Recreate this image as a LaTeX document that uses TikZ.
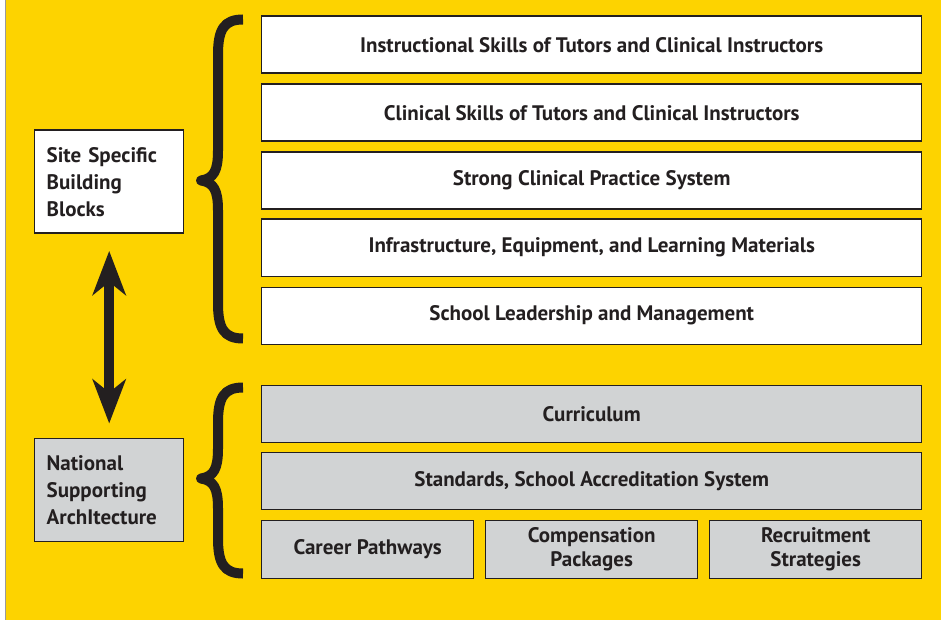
\documentclass[tikz,border=0pt]{standalone}
\usepackage{fontspec}
\setmainfont{PT Sans}
\usetikzlibrary{arrows.meta}
\definecolor{panel}{HTML}{FDD300}
\definecolor{ink}{HTML}{231F20}
\definecolor{boxgray}{HTML}{D1D3D4}
\definecolor{edge}{HTML}{9A9A9A}
\tikzset{
  blk/.style={draw=ink, line width=1.4pt, text=ink, inner sep=0pt,
    font=\fontsize{21}{24}\selectfont\bfseries, align=center, anchor=north west},
  whiteblk/.style={blk, fill=white},
  grayblk/.style={blk, fill=boxgray},
  sidebox/.style={blk, align=left, text width=125pt, inner xsep=12pt,
    minimum width=149pt, minimum height=103pt,
    font=\fontsize{21}{27}\selectfont\bfseries},
  wide/.style={minimum width=660pt, minimum height=57pt},
  third/.style={minimum width=212pt, minimum height=58pt},
  bracestroke/.style={draw=ink, line width=10pt, line cap=butt, line join=round},
  link/.style={draw=ink, line width=10pt,
    {Stealth[length=44pt, width=33pt, inset=13pt]}-{Stealth[length=44pt, width=33pt, inset=13pt]}}
}
% curly brace: #1 = top y, #2 = tip y, #3 = bottom y
\newcommand{\curlybrace}[3]{%
  \draw[bracestroke] (243,#1) .. controls (224,#1) and (218,#1+10) .. (218,#1+35)
    -- (218,#2-30) .. controls (218,#2-10) and (214,#2-2) .. (201,#2)
    .. controls (214,#2+2) and (218,#2+10) .. (218,#2+30)
    -- (218,#3-35) .. controls (218,#3-10) and (224,#3) .. (243,#3);}
\begin{document}
\begin{tikzpicture}[x=1pt, y=-1pt]
  % page and panel
  \fill[white] (0,0) rectangle (941,619);
  \fill[panel] (6,0) rectangle (941,619);
  \draw[edge, line width=1pt] (5.5,0) -- (5.5,619);
  \useasboundingbox (0,0) rectangle (941,619);

  % left-hand labels
  \node[sidebox, fill=white] (site) at (34,129) {Site Specific\\Building\\Blocks};
  \node[sidebox, fill=boxgray] (nat) at (34,437) {National\\Supporting\\ArchItecture};

  % site specific building blocks
  \node[whiteblk, wide] (b1) at (261,15) {Instructional Skills of Tutors and Clinical Instructors};
  \node[whiteblk, wide] (b2) at (261,83) {Clinical Skills of Tutors and Clinical Instructors};
  \node[whiteblk, wide] (b3) at (261,151) {Strong Clinical Practice System};
  \node[whiteblk, wide] (b4) at (261,218) {Infrastructure, Equipment, and Learning Materials};
  \node[whiteblk, wide] (b5) at (261,286) {School Leadership and Management};

  % national supporting architecture
  \node[grayblk, wide] (n1) at (261,384) {Curriculum};
  \node[grayblk, wide] (n2) at (261,451) {Standards, School Accreditation System};
  \node[grayblk, third] (n3) at (261,519) {Career Pathways};
  \node[grayblk, third] (n4) at (485,519) {Compensation\\Packages};
  \node[grayblk, third] (n5) at (709,519) {Recruitment\\Strategies};

  % braces grouping the blocks
  \curlybrace{19}{180}{338}
  \curlybrace{387}{478}{573}

  % two-way link between the groups
  \draw[link, shorten <=17pt, shorten >=14pt] (site.south) -- (nat.north);
\end{tikzpicture}
\end{document}
